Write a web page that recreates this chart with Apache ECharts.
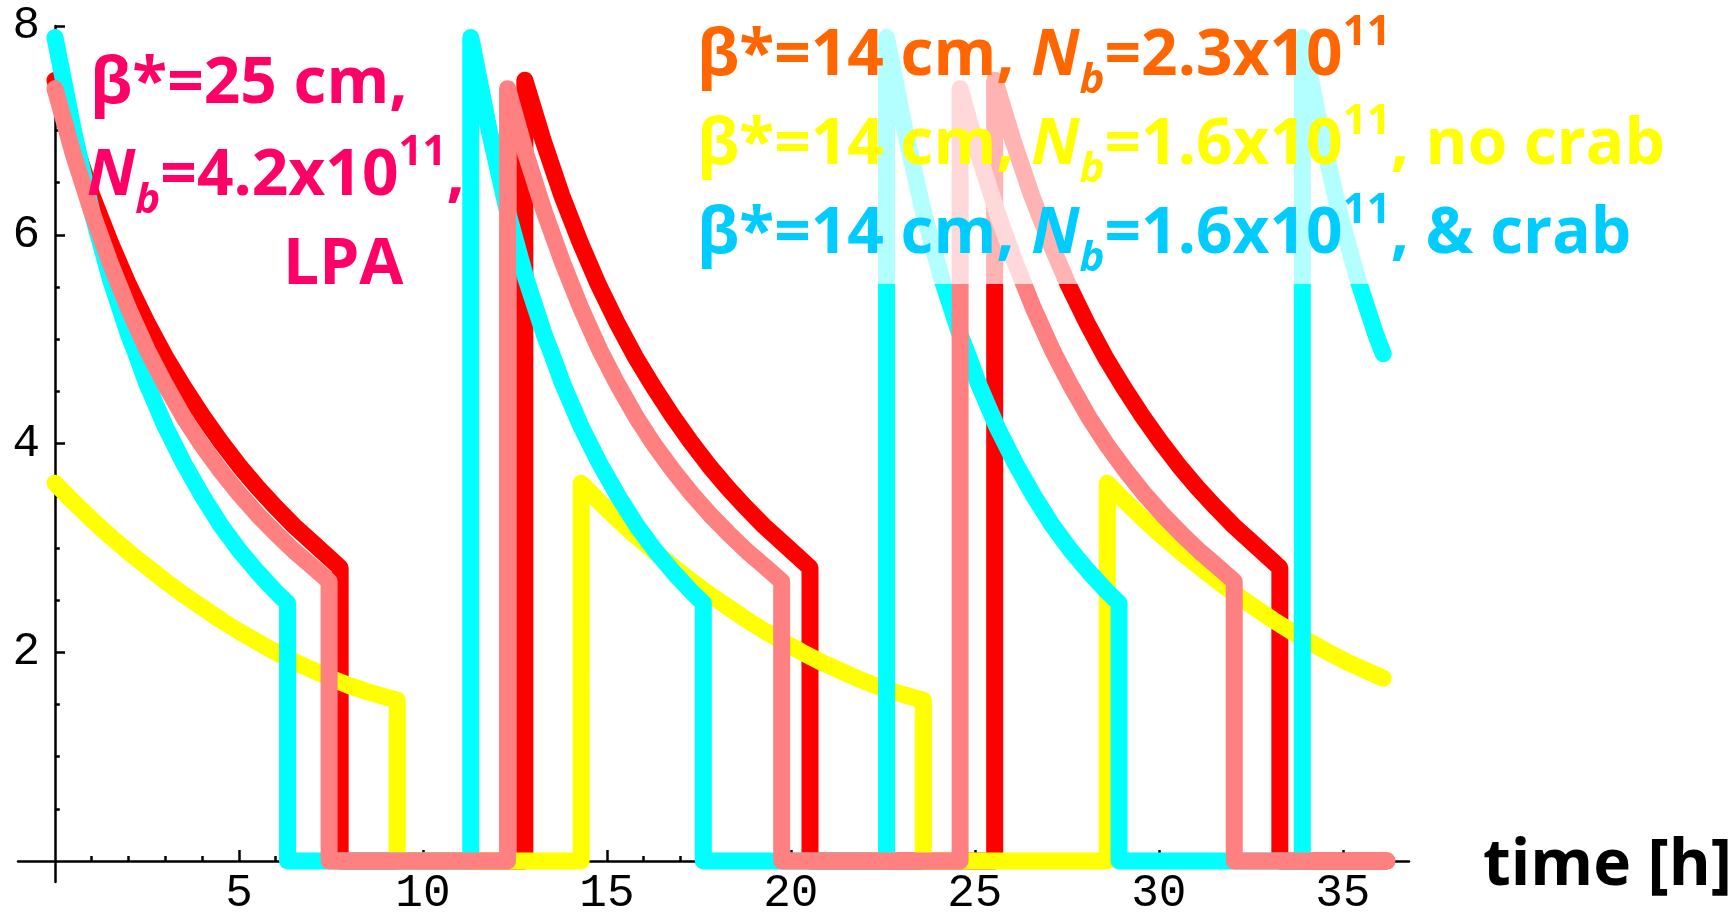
<!DOCTYPE html>
<html>
<head>
<meta charset="utf-8">
<script src="https://cdn.jsdelivr.net/npm/echarts@6/dist/echarts.min.js"></script>
<style>
  html, body { margin: 0; padding: 0; background: #ffffff; }
  #chart { width: 1729px; height: 913px; }
</style>
</head>
<body>
<div id="chart"></div>
<script>
// Luminosity during one fill: hours since the start of the fill -> luminosity
const redHours    = [0, 0.5, 1, 1.5, 2, 2.5, 3, 3.5, 4, 4.5, 5, 5.5, 6, 6.5, 7, 7.5, 7.75];
const redValues   = [7.48, 6.9, 6.38, 5.93, 5.52, 5.16, 4.83, 4.54, 4.27, 4.02, 3.79, 3.58, 3.39, 3.21, 3.05, 2.89, 2.81];
const redFillStarts = [0, 12.77, 25.54];
const redFillLength = 7.75;

const pinkHours   = [0, 0.5, 1, 1.5, 2, 2.5, 3, 3.5, 4, 4.5, 5, 5.5, 6, 6.5, 7, 7.45];
const pinkValues  = [7.4, 6.77, 6.22, 5.73, 5.29, 4.9, 4.56, 4.25, 3.98, 3.74, 3.52, 3.32, 3.14, 2.97, 2.82, 2.68];
const pinkFillStarts = [0, 12.3, 24.6];
const pinkFillLength = 7.45;

const cyanHours   = [0, 0.5, 1, 1.5, 2, 2.2, 2.5, 3, 3.5, 4, 4.5, 5, 5.5, 6, 6.32];
const cyanValues  = [7.89, 7.0, 6.22, 5.58, 5.04, 4.86, 4.57, 4.16, 3.81, 3.5, 3.22, 2.98, 2.77, 2.58, 2.47];
const cyanFillStarts = [0, 11.3, 22.6, 33.9];
const cyanFillLength = 6.32;

const yellowHours  = [0, 0.5, 1, 1.5, 2, 2.5, 3, 3.5, 4, 4.5, 5, 5.5, 6, 6.5, 7, 7.5, 8, 8.5, 9, 9.3];
const yellowValues = [3.62, 3.44, 3.27, 3.11, 2.96, 2.82, 2.68, 2.55, 2.43, 2.31, 2.2, 2.1, 2.0, 1.91, 1.83, 1.75, 1.68, 1.62, 1.57, 1.54];
const yellowFillStarts = [0, 14.3, 28.6];
const yellowFillLength = 9.3;

// last time step computed; a fill still running then is cut off there
const runningFillEnd = 36.1;
const plotEnd = 36.2;

const xMajorTicks = [5, 10, 15, 20, 25, 30, 35];
const xMinorTicks = [1, 2, 3, 4, 6, 7, 8, 9, 11, 12, 13, 14, 16, 17, 18, 19, 21, 22, 23, 24, 26, 27, 28, 29, 31, 32, 33, 34, 36];
const yMajorTicks = [2, 4, 6, 8];
const yMinorTicks = [0.5, 1, 1.5, 2.5, 3, 3.5, 4.5, 5, 5.5, 6.5, 7, 7.5];

// Chain the fills: decay during a fill, vertical dump to zero, zero during turnaround.
function buildFills(hours, values, starts, fillLength) {
  const pts = [];
  let stillRunning = false;
  starts.forEach(function (s, i) {
    const limit = Math.min(fillLength, runningFillEnd - s);
    if (s > 0) pts.push([s, 0]);
    for (let k = 0; k < hours.length; k++) {
      if (hours[k] <= limit + 1e-9) pts.push([s + hours[k], values[k]]);
    }
    if (s + fillLength <= runningFillEnd) {
      pts.push([s + fillLength, 0]);
    } else if (i === starts.length - 1) {
      stillRunning = true;
    }
  });
  if (!stillRunning) pts.push([plotEnd, 0]);
  return pts;
}

const chart = echarts.init(document.getElementById('chart'));

const tickFont = { fontFamily: 'Liberation Mono', fontSize: 46, color: '#000000' };
const axisLineStyle = { color: '#000000', width: 2.5 };

function legendRich(color) {
  const base = { color: color, fontFamily: 'Open Sans', fontWeight: 'bold', fontSize: 64, lineHeight: 90 };
  return {
    a: base,
    n: Object.assign({}, base, { fontStyle: 'italic' }),
    s: Object.assign({}, base, { fontStyle: 'italic', fontSize: 42, lineHeight: 42, verticalAlign: 'bottom' }),
    p: Object.assign({}, base, { fontSize: 42, lineHeight: 62, verticalAlign: 'top' })
  };
}

function label(text, left, top, color) {
  return {
    text: text, left: left, top: top, padding: 0, z: 100,
    textStyle: { rich: legendRich(color) }
  };
}

function lineSeries(name, color, data, z) {
  return {
    name: name, type: 'line', data: data, z: z,
    xAxisIndex: 0, yAxisIndex: 0,
    showSymbol: false, symbol: 'none', clip: false, animation: false,
    lineStyle: { color: color, width: 17, cap: 'round', join: 'round' }
  };
}

const option = {
  backgroundColor: '#ffffff',
  animation: false,
  grid: [
    // data area: time from 0, luminosity from 0; carries the labels and major ticks
    { left: 55, right: 320, top: 26, bottom: 52, outerBoundsMode: 'none' },
    // same scale, reaching slightly past the origin: draws the crossing axis lines and minor ticks
    { left: 18, right: 320, top: 26, bottom: 31, outerBoundsMode: 'none' }
  ],
  xAxis: [
    {
      gridIndex: 0, type: 'value', min: 0, max: 36.8, position: 'bottom',
      axisLine: { show: false },
      axisTick: { inside: true, length: 11, customValues: xMajorTicks, lineStyle: axisLineStyle },
      axisLabel: Object.assign({ customValues: xMajorTicks, margin: 10 }, tickFont),
      splitLine: { show: false }
    },
    {
      gridIndex: 1, type: 'value', min: -1, max: 36.8, position: 'bottom',
      axisLine: { onZero: true, lineStyle: axisLineStyle },
      axisTick: { inside: true, length: 5, customValues: xMinorTicks, lineStyle: axisLineStyle },
      axisLabel: { show: false },
      splitLine: { show: false }
    }
  ],
  yAxis: [
    {
      gridIndex: 0, type: 'value', min: 0, max: 8, position: 'left',
      axisLine: { show: false },
      axisTick: { inside: true, length: 10, customValues: yMajorTicks, lineStyle: axisLineStyle },
      axisLabel: Object.assign({ customValues: yMajorTicks, margin: 15 }, tickFont),
      splitLine: { show: false }
    },
    {
      gridIndex: 1, type: 'value', min: -0.2, max: 8, position: 'left',
      axisLine: { onZero: true, lineStyle: axisLineStyle },
      axisTick: { inside: true, length: 5, customValues: yMinorTicks, lineStyle: axisLineStyle },
      axisLabel: { show: false },
      splitLine: { show: false }
    }
  ],
  title: [
    label('{a|β*=25 cm,}', 90, 40, '#ff0066'),
    label('{n|N}{s|b}{a|=4.2x10}{p|11}{a|,}', 87, 132, '#ff0066'),
    label('{a|LPA}', 283, 221, '#ff0066'),
    label('{a|β*=14 cm, }{n|N}{s|b}{a|=2.3x10}{p|11}', 697, 12, '#ff6600'),
    label('{a|β*=14 cm, }{n|N}{s|b}{a|=1.6x10}{p|11}{a|, no crab}', 697, 101, '#ffff00'),
    label('{a|β*=14 cm, }{n|N}{s|b}{a|=1.6x10}{p|11}{a|, & crab}', 697, 190, '#00ccff'),
    {
      text: 'time [h]', left: 1483, top: 827, padding: 0, z: 100,
      textStyle: { fontFamily: 'Open Sans', fontWeight: 'bold', fontSize: 64, lineHeight: 80, color: '#000000' }
    }
  ],
  graphic: [
    {
      type: 'rect', left: 690, top: 0, z: 50,
      shape: { width: 1039, height: 284 },
      style: { fill: 'rgba(255,255,255,0.7)' }
    }
  ],
  series: [
    lineSeries('red', '#ff0000', buildFills(redHours, redValues, redFillStarts, redFillLength), 2),
    lineSeries('yellow', '#ffff00', buildFills(yellowHours, yellowValues, yellowFillStarts, yellowFillLength), 3),
    lineSeries('cyan', '#00ffff', buildFills(cyanHours, cyanValues, cyanFillStarts, cyanFillLength), 4),
    lineSeries('pink', '#ff8080', buildFills(pinkHours, pinkValues, pinkFillStarts, pinkFillLength), 5)
  ]
};

chart.setOption(option);
</script>
</body>
</html>
